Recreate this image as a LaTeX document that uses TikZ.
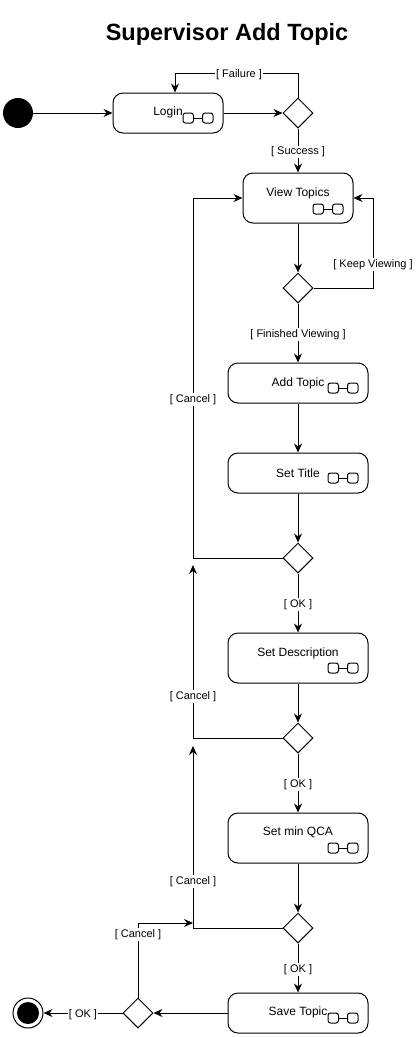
\documentclass[tikz,border=0pt]{standalone}
\usepackage{fontspec}
\setmainfont{Liberation Sans}
\usetikzlibrary{shapes.geometric,arrows.meta}
\tikzset{
  act/.style={draw, line width=1pt, rounded corners=10pt, minimum width=140pt, minimum height=40pt, inner sep=0pt},
  acttext/.style={font=\fontsize{12}{14}\selectfont, inner sep=0pt, yshift=-1.5pt},
  dec/.style={draw, line width=1pt, diamond, aspect=1, minimum width=30pt, minimum height=30pt, inner sep=0pt},
  flow/.style={draw, line width=1pt, -{Stealth[length=9pt,width=8pt,inset=3pt]}},
  plain/.style={draw, line width=1pt},
  guard/.style={fill=white, font=\fontsize{11}{13}\selectfont, inner sep=1pt, yshift=-1.5pt},
  subact/.pic={
    \draw[line width=1pt, rounded corners=2.5pt] (0,-5) rectangle (10.5,5);
    \draw[line width=1pt, rounded corners=2.5pt] (19.5,-5) rectangle (30,5);
    \draw[line width=1pt] (10.5,0) -- (19.5,0);
  }
}
\begin{document}
\begin{tikzpicture}[x=1pt,y=-1pt]
\useasboundingbox (0,0) rectangle (416,1037);
% title
\node[font=\fontsize{23.5}{28}\selectfont\bfseries, inner sep=0pt] (ttl) at (227,34) {Supervisor Add Topic};
% start / end
\node[circle, fill=black, minimum size=30pt, inner sep=0pt] (start) at (18,113) {};
\node[circle, draw, line width=1pt, minimum size=30pt, inner sep=0pt] (end) at (28,1013) {};
\node[circle, fill=black, minimum size=22pt, inner sep=0pt] (endin) at (28,1013) {};
% activities
\node[act, minimum width=110pt] (login) at (168,113) {};
\node[acttext] (logint) at (168,111) {Login};
\pic at (183,118) {subact};
\node[act, minimum width=110pt, minimum height=50pt] (view) at (298,198) {};
\node[acttext] (viewt) at (298,192) {View Topics};
\pic at (313,209) {subact};
\node[act] (add) at (298,383) {};
\node[acttext] (addt) at (298,382) {Add Topic};
\pic at (328,388) {subact};
\node[act] (title) at (298,473) {};
\node[acttext] (titlet) at (298,472) {Set Title};
\pic at (328,478) {subact};
\node[act, minimum height=50pt] (desc) at (298,658) {};
\node[acttext] (desct) at (298,652) {Set Description};
\pic at (328,668) {subact};
\node[act, minimum height=50pt] (qca) at (298,838) {};
\node[acttext] (qcat) at (298,831) {Set min QCA};
\pic at (328,848) {subact};
\node[act] (save) at (298,1013) {};
\node[acttext] (savet) at (298,1011) {Save Topic};
\pic at (328,1018) {subact};
% decisions
\node[dec] (d1) at (298,113) {};
\node[dec] (d2) at (298,288) {};
\node[dec] (d3) at (298,558) {};
\node[dec] (d4) at (298,738) {};
\node[dec] (d5) at (298,928) {};
\node[dec] (d6) at (138,1013) {};
% helper coordinates
\coordinate (fail) at (175,73);
\coordinate (kv) at (373,198);
\coordinate (c1) at (193,198);
\coordinate (c2) at (193,565);
\coordinate (c3) at (193,746);
\coordinate (c4) at (138,923);
\coordinate (c4e) at (193,923);
% connectors
\path[flow] (start) -- (login.west);
\path[flow] (login.east) -- (d1.west);
\path[flow] (d1.north) |- (fail) -- (fail |- login.north);
\node[guard] (lfail) at (239,73) {[ Failure ]};
\path[flow] (d1.south) -- node[guard] (lsucc) {[ Success ]} (view.north);
\path[flow] (view.south) -- (d2.north);
\path[flow] (d2.east) -| (kv) -- (view.east |- kv);
\node[guard] (lkeep) at (373,263) {[ Keep Viewing ]};
\path[flow] (d2.south) -- node[guard] (lfin) {[ Finished Viewing ]} (add.north);
\path[flow] (add.south) -- (title.north);
\path[flow] (title.south) -- (d3.north);
\path[flow] (d3.west) -| (c1) -- (view.west |- c1);
\node[guard] (lc1) at (193,398) {[ Cancel ]};
\path[flow] (d3.south) -- node[guard] (lok1) {[ OK ]} (desc.north);
\path[flow] (desc.south) -- (d4.north);
\path[flow] (d4.west) -| (c2);
\node[guard] (lc2) at (193,695) {[ Cancel ]};
\path[flow] (d4.south) -- node[guard] (lok2) {[ OK ]} (qca.north);
\path[flow] (qca.south) -- (d5.north);
\path[flow] (d5.west) -| (c3);
\node[guard] (lc3) at (193,880) {[ Cancel ]};
\path[flow] (d5.south) -- node[guard] (lok3) {[ OK ]} (save.north);
\path[flow] (save.west) -- (d6.east);
\path[flow] (d6.north) -- (c4) -- (c4e);
\node[guard] (lc4) at (138,933) {[ Cancel ]};
\path[flow] (d6.west) -- node[guard] (lok4) {[ OK ]} (end.east);
\end{tikzpicture}
\end{document}
